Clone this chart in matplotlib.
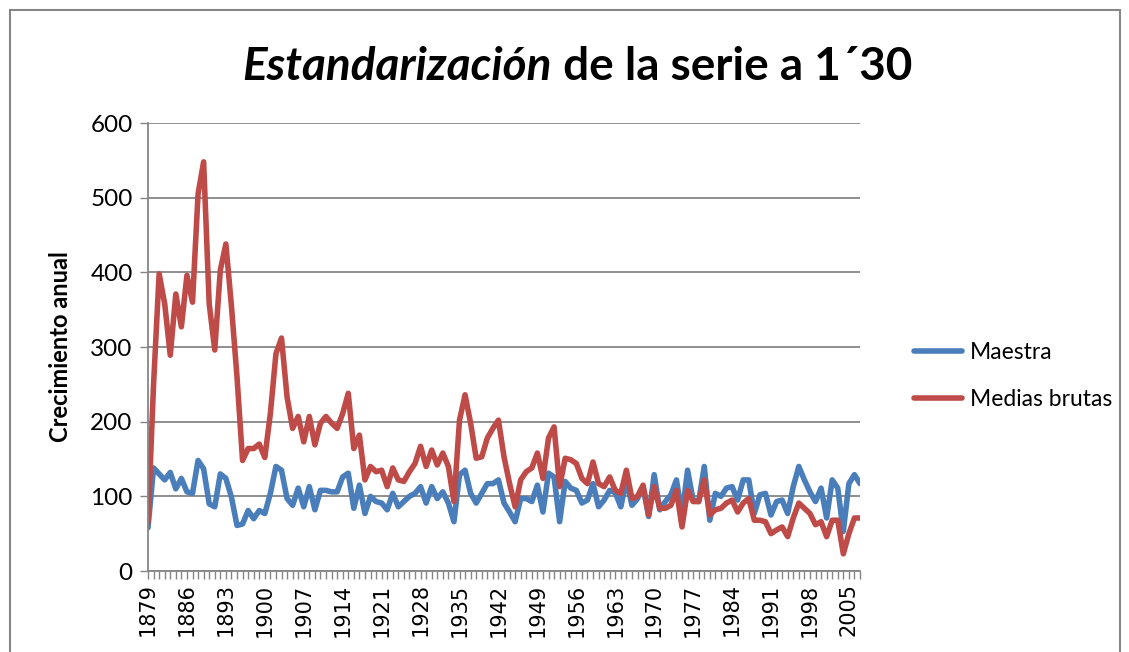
import numpy as np
import matplotlib
matplotlib.use("Agg")
import matplotlib.pyplot as plt
from matplotlib.patches import Rectangle

# Años (eje de categorías) y series
years = list(range(1879, 2008))

maestra = [
    58, 138, 130, 122, 132, 110, 124, 106, 104, 148,   # 1879-1888
    137, 90, 86, 130, 124, 99, 61, 63, 81, 70,         # 1889-1898
    81, 77, 104, 140, 135, 97, 88, 111, 86, 113,       # 1899-1908
    82, 108, 108, 106, 106, 126, 131, 84, 115, 77,     # 1909-1918
    100, 93, 91, 82, 104, 86, 93, 100, 104, 113,       # 1919-1928
    91, 113, 97, 106, 91, 66, 129, 135, 104, 91,       # 1929-1938
    104, 117, 117, 122, 91, 79, 66, 97, 97, 93,        # 1939-1948
    115, 79, 131, 126, 66, 120, 111, 108, 91, 95,      # 1949-1958
    117, 86, 95, 108, 105, 86, 122, 88, 97, 113,       # 1959-1968
    73, 129, 82, 93, 102, 122, 75, 135, 95, 93,        # 1969-1978
    140, 68, 104, 100, 111, 113, 95, 122, 122, 77,     # 1979-1988
    102, 104, 75, 93, 95, 77, 113, 140, 122, 106,      # 1989-1998
    93, 111, 71, 122, 111, 53, 117, 129, 117,          # 1999-2007
]

medias_brutas = [
    65, 250, 398, 358, 289, 371, 327, 396, 360, 505,   # 1879-1888
    548, 358, 296, 403, 438, 355, 260, 148, 164, 164,  # 1889-1898
    170, 152, 211, 291, 312, 233, 191, 207, 173, 207,  # 1899-1908
    169, 198, 207, 198, 191, 211, 238, 164, 182, 122,  # 1909-1918
    140, 133, 135, 113, 138, 122, 120, 133, 144, 167,  # 1919-1928
    140, 162, 142, 158, 140, 93, 202, 236, 198, 151,   # 1929-1938
    153, 178, 191, 202, 153, 117, 86, 122, 133, 138,   # 1939-1948
    158, 124, 178, 193, 113, 151, 149, 144, 124, 117,  # 1949-1958
    146, 117, 113, 126, 108, 104, 135, 97, 100, 115,   # 1959-1968
    75, 113, 84, 84, 88, 108, 59, 108, 93, 93,         # 1969-1978
    122, 75, 82, 84, 91, 95, 79, 91, 97, 68,           # 1979-1988
    68, 66, 50, 55, 59, 46, 71, 91, 84, 77,            # 1989-1998
    62, 66, 46, 68, 68, 23, 50, 71, 71,                # 1999-2007
]

yticks = [0, 100, 200, 300, 400, 500, 600]
label_years = years[::7]

BLUE = "#4A7EBB"
RED = "#BE4B48"
GRID = "#868686"

W, H = 1129, 652
fig = plt.figure(figsize=(W / 100, H / 100), dpi=100)
fig.patch.set_facecolor("white")

# borde del área del gráfico
fig.patches.append(Rectangle((10 / W, -0.05), 1110 / W, 1 - 10 / H + 0.05,
                             transform=fig.transFigure, fill=False,
                             edgecolor=GRID, lw=1.5))

ax = fig.add_axes([148 / W, 1 - 571 / H, 712 / W, 448 / H])
ax.plot(years, maestra, color=BLUE, lw=4, label="Maestra",
        solid_joinstyle="round", solid_capstyle="round")
ax.plot(years, medias_brutas, color=RED, lw=4, label="Medias brutas",
        solid_joinstyle="round", solid_capstyle="round")

ax.set_xlim(years[0], years[-1])
ax.set_ylim(0, 600)
ax.set_yticks(yticks)
ax.yaxis.grid(True, color=GRID, lw=1.3)
ax.set_axisbelow(True)

ax.set_xticks(years, minor=True)
ax.set_xticks(label_years)
ax.set_xticklabels([str(y) for y in label_years], rotation=90,
                   fontsize=15, family="DejaVu Sans", color="black")
ax.tick_params(axis="x", which="both", direction="out", length=6,
               color=GRID, width=1, pad=3)
ax.tick_params(axis="y", direction="out", length=6, color=GRID, width=1,
               labelsize=17.5, pad=5)
for lab in ax.get_yticklabels():
    lab.set_family("Lato")

for side in ["top", "right"]:
    ax.spines[side].set_visible(False)
for side in ["left", "bottom"]:
    ax.spines[side].set_color(GRID)
    ax.spines[side].set_linewidth(1.3)

fig.text(60 / W, 1 - 347 / H, "Crecimiento anual", rotation=90,
         ha="center", va="center", fontsize=17, weight="bold", family="Lato")

fig.legend(loc="center left", bbox_to_anchor=(893 / W, 1 - 376 / H),
           frameon=False, prop={"family": "Lato", "size": 16.5},
           handlelength=2.1, labelspacing=1.15, handletextpad=0.35)

# título con parte en cursiva
renderer = fig.canvas.get_renderer()
ty = 1 - 80 / H
t1 = fig.text(0, ty, "Estandarización", fontsize=33, weight="bold",
              style="italic", family="Lato", va="baseline", ha="left")
t2 = fig.text(0, ty, " de la serie a 1´30", fontsize=33, weight="bold",
              family="Lato", va="baseline", ha="left")
w1 = t1.get_window_extent(renderer).width
w2 = t2.get_window_extent(renderer).width
x0 = 577 - (w1 + w2) / 2
t1.set_x(x0 / W)
t2.set_x((x0 + w1) / W)

fig.savefig("out.png", dpi=100)
